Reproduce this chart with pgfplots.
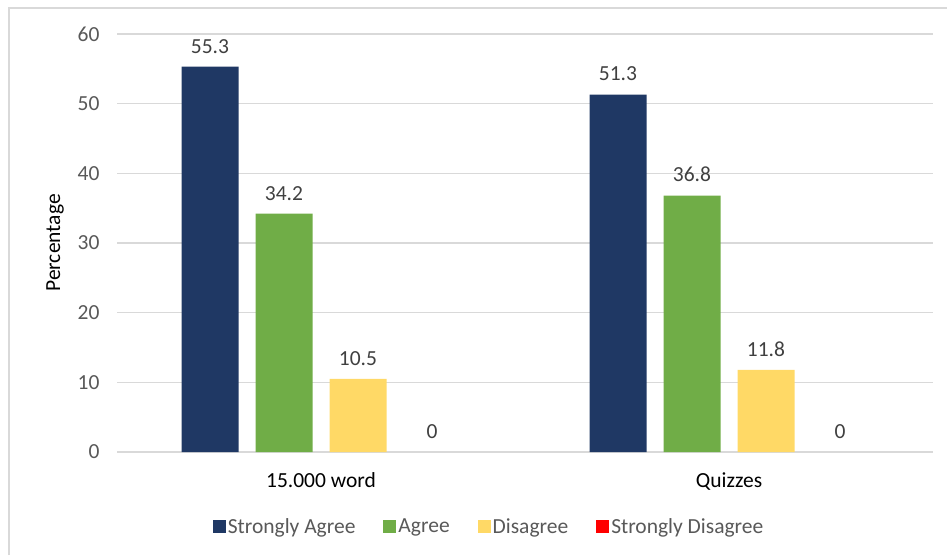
\documentclass[border=0pt]{standalone}
\usepackage{pgfplots}
\pgfplotsset{compat=1.18}
\usepackage{fontspec}
\setmainfont{Carlito}
\definecolor{navy}{HTML}{1F3864}
\definecolor{sgreen}{HTML}{70AD47}
\definecolor{syellow}{HTML}{FFD966}
\definecolor{sred}{HTML}{FF0000}
\definecolor{gridc}{HTML}{D9D9D9}
\definecolor{tickc}{HTML}{595959}
\definecolor{labc}{HTML}{404040}
\begin{document}
\begin{tikzpicture}[x=1pt,y=1pt]
\path[use as bounding box] (0,0) rectangle (947,555);
\draw[gridc, line width=1.6pt] (9,0) -- (9,547) -- (947,547);
\begin{axis}[
  at={(117pt,103pt)}, anchor=south west,
  scale only axis, width=816pt, height=418pt,
  ybar=17pt, bar width=57pt,
  xmin=-0.5, xmax=1.5, ymin=0, ymax=60,
  xtick=data, xticklabels={15.000 word, Quizzes},
  ytick={0,10,...,60},
  axis line style={draw=none},
  major tick length=0pt,
  ymajorgrids, grid style={gridc, line width=1.2pt},
  font=\fontsize{21.5}{25}\selectfont,
  xticklabel style={black, yshift=-17pt},
  yticklabel style={tickc, xshift=-14pt},
  /pgf/number format/assume math mode=true,
  ylabel={Percentage}, ylabel style={black, at={(axis description cs:0,0.5)}, anchor=center, yshift=62pt},
  nodes near coords,
  nodes near coords style={labc, text opacity=1, font=\fontsize{21.5}{25}\selectfont, yshift=10pt, /pgf/number format/fixed, /pgf/number format/precision=1},
  legend style={draw=none, at={(rel axis cs:0.456,-0.179)}, anchor=center, legend columns=4,
    font=\fontsize{21.5}{25}\selectfont, text=tickc, inner sep=0pt,
    /tikz/every even column/.append style={column sep=26pt}},
  legend image code/.code={\fill[#1] (0pt,-6.5pt) rectangle (13pt,6.5pt);},
]
\addplot[fill=navy, draw=none] coordinates {(0,55.3) (1,51.3)};
\addplot[fill=sgreen, draw=none] coordinates {(0,34.2) (1,36.8)};
\addplot[fill=syellow, draw=none] coordinates {(0,10.5) (1,11.8)};
\addplot[fill=sred, draw=none, fill opacity=0,
  legend image code/.code={\fill[sred, fill opacity=1] (0pt,-6.5pt) rectangle (13pt,6.5pt);}] coordinates {(0,0) (1,0)};
\legend{Strongly Agree, Agree, Disagree, Strongly Disagree}
\end{axis}
\end{tikzpicture}
\end{document}
